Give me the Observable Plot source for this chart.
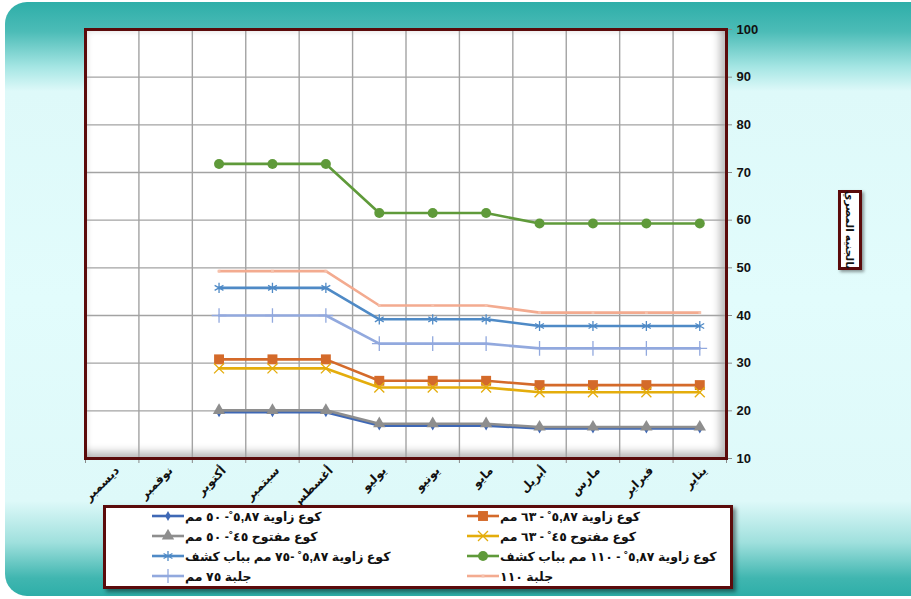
<!DOCTYPE html>
<html><head><meta charset="utf-8">
<script src="https://cdn.jsdelivr.net/npm/d3@7"></script>
<script src="https://cdn.jsdelivr.net/npm/@observablehq/plot@0.6"></script>
<style>
body{margin:0;background:#fff;font-family:Arial,"Liberation Sans","DejaVu Sans",sans-serif;}
#wrap{position:relative;width:911px;height:599px;overflow:hidden;background:#fff;}
#bg{position:absolute;left:5px;top:2px;width:960px;height:594px;border-radius:22px;
  background:linear-gradient(to bottom,#2eaea8 0%,#4cbcb7 5%,#a6e6e4 11%,#def9f9 15%,#e2fcfc 50%,#def9f9 84%,#9fe0dd 91%,#40b6b0 97%,#2eaea8 100%);}
#bevel{position:absolute;left:85px;top:29px;width:641px;height:429px;background:#fff;
  box-shadow:inset -14px -14px 8px -8px rgba(0,0,0,0.28),inset 6px 6px 6px -4px rgba(0,0,0,0.14);}
#chart{position:absolute;left:0;top:0;}
#legend{position:absolute;left:103px;top:505px;width:624px;height:78px;border:3px solid #5b0b0b;background:#fff;
  box-shadow:3px 3px 4px rgba(0,0,0,0.45);display:grid;grid-template-columns:315px 309px;grid-auto-rows:20px;padding:0;}
.item{display:flex;align-items:center;font-weight:bold;font-size:12.5px;color:#111;white-space:nowrap;position:relative;top:-2px;}
.item span{direction:rtl;unicode-bidi:embed;margin-left:1px;}
#ytitle{position:absolute;left:838px;top:190px;width:18px;height:74px;border:3px solid #5b0b0b;background:#fff;
  box-shadow:2px 2px 3px rgba(0,0,0,0.4);}
#ytitle div{position:absolute;left:50%;top:50%;transform:translate(-50%,-50%) rotate(90deg);white-space:nowrap;
  font-weight:bold;font-size:10.5px;color:#111;direction:rtl;}
</style></head>
<body>
<div id="wrap">
  <div id="bg"></div>
  <div id="bevel"></div>
  <div id="chart"></div>
  <div id="legend"></div>
  <div id="ytitle"><div>بالجنيه المصري</div></div>
</div>
<script>
// Months, index 0 = January (drawn at the right), 11 = December (left)
const months = ["يناير","فبراير","مارس","أبريل","مايو","يونيو","يوليو","أغسطس","سبتمبر","أكتوبر","نوفمبر","ديسمبر"];

const seriesNames = [
  "كوع زاوية ٥,٨٧˚- ٥٠ مم",
  "كوع زاوية ٥,٨٧˚ - ٦٣ مم",
  "كوع مفتوح ٤٥˚- ٥٠ مم",
  "كوع مفتوح ٤٥˚ - ٦٣ مم",
  "كوع زاوية ٥,٨٧˚ -٧٥ مم بباب كشف",
  "كوع زاوية ٥,٨٧˚ - ١١٠ مم بباب كشف",
  "جلبة ٧٥ مم",
  "جلبة ١١٠"
];

// values Jan..Dec (Nov, Dec empty)
const elbow87_50   = [16.3,16.3,16.3,16.3,16.9,16.9,16.9,19.7,19.7,19.7,null,null];
const elbow87_63   = [25.4,25.4,25.4,25.4,26.3,26.3,26.3,30.8,30.8,30.8,null,null];
const open45_50    = [16.6,16.6,16.6,16.6,17.3,17.3,17.3,20.1,20.1,20.1,null,null];
const open45_63    = [23.9,23.9,23.9,23.9,24.9,24.9,24.9,28.9,28.9,28.9,null,null];
const elbow87_75   = [37.8,37.8,37.8,37.8,39.2,39.2,39.2,45.8,45.8,45.8,null,null];
const elbow87_110  = [59.3,59.3,59.3,59.3,61.5,61.5,61.5,71.8,71.8,71.8,null,null];
const sleeve75     = [33.1,33.1,33.1,33.1,34.1,34.1,34.1,40.0,40.0,40.0,null,null];
const sleeve110    = [40.6,40.6,40.6,40.6,42.1,42.1,42.1,49.3,49.3,49.3,null,null];

const seriesValues = [elbow87_50, elbow87_63, open45_50, open45_63, elbow87_75, elbow87_110, sleeve75, sleeve110];
const seriesColors = ["#3f68b5","#d46a2a","#8e8e8e","#e4ad0c","#4f8ac6","#5f9a3a","#92a9de","#f3ab90"];
const seriesSymbols = ["diamond","square","triangle","times","asterisk","circle","plus","square"];
const seriesR = [3,5.6,4.6,4.6,4.8,5,4.8,1.6];
const symbolFilled = [true,true,true,false,false,true,false,true];

const yTicks = [10,20,30,40,50,60,70,80,90,100];

const data = [];
seriesValues.forEach((vals, s) => vals.forEach((v, i) => {
  if (v != null) data.push({s, x: i + 0.5, y: v});
}));

const marks = [
  Plot.ruleY(yTicks, {stroke:"#a3a3a3", strokeWidth:1.4}),
  Plot.ruleX(d3.range(1, 12), {stroke:"#a3a3a3", strokeWidth:1.4}),
];
seriesValues.forEach((_, s) => {
  const d = data.filter(p => p.s === s);
  marks.push(Plot.line(d, {x:"x", y:"y", stroke:seriesColors[s], strokeWidth:2.6}));
  marks.push(Plot.dot(d, {x:"x", y:"y", symbol:seriesSymbols[s], r:seriesR[s],
    fill: symbolFilled[s] ? (s === 7 ? "#f6c1ac" : seriesColors[s]) : "none",
    stroke: symbolFilled[s] ? "none" : seriesColors[s], strokeWidth:1.3}));
});
marks.push(
  Plot.axisY(yTicks, {anchor:"right", tickSize:5, tickPadding:5, stroke:"#8a8a8a", fill:"#111",
    fontSize:13, fontWeight:"bold", label:null}),
  Plot.axisX(d3.range(0, 13), {tickSize:5, stroke:"#8a8a8a", fill:"none", label:null}),
  Plot.axisX(d3.range(0, 12).map(i => i + 0.5), {tickSize:0, tickPadding:10, dx:5, tickRotate:-45,
    tickFormat: v => months[Math.floor(v)], fill:"#111", fontSize:12, fontWeight:"bold", label:null}),
  Plot.frame({stroke:"#5b0b0b", strokeWidth:3})
);

const chart = Plot.plot({
  width: 911, height: 599,
  marginLeft: 85, marginRight: 185, marginTop: 29, marginBottom: 141,
  style: {background:"transparent", fontFamily:"Arial, 'Liberation Sans', 'DejaVu Sans', sans-serif"},
  x: {type:"linear", domain:[12, 0], label:null},
  y: {domain:[10, 100], label:null},
  marks
});
document.getElementById("chart").appendChild(chart);

// Legend (row-major, two columns), built from the series arrays
const legend = d3.select("#legend");
const typeMap = {diamond:d3.symbolDiamond, square:d3.symbolSquare, triangle:d3.symbolTriangle,
  times:d3.symbolTimes, asterisk:d3.symbolAsterisk, circle:d3.symbolCircle, plus:d3.symbolPlus};
seriesNames.forEach((name, s) => {
  const item = legend.append("div").attr("class", "item").style("padding-left", "46px");
  const svg = item.append("svg").attr("width", 32).attr("height", 14);
  svg.append("line").attr("x1", 0).attr("x2", 32).attr("y1", 7).attr("y2", 7)
    .attr("stroke", seriesColors[s]).attr("stroke-width", 2.6);
  svg.append("path").attr("transform", "translate(16,7)")
    .attr("d", d3.symbol(typeMap[seriesSymbols[s]], Math.PI * seriesR[s] * seriesR[s])())
    .attr("fill", symbolFilled[s] ? (s === 7 ? "#f6c1ac" : seriesColors[s]) : "none")
    .attr("stroke", symbolFilled[s] ? "none" : seriesColors[s]).attr("stroke-width", 1.3);
  item.append("span").text(name);
});
</script>
</body></html>
